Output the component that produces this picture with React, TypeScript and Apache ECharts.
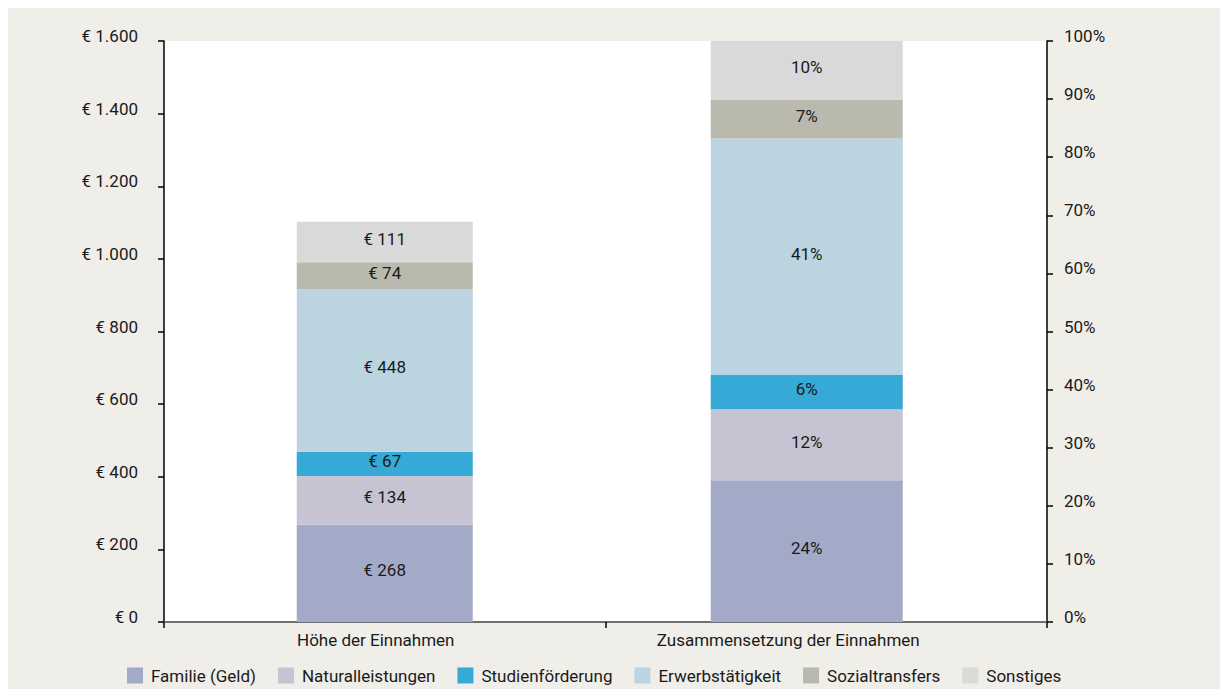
import React, { useEffect, useRef } from "react";
import * as echarts from "echarts";

const categories = ["Höhe der Einnahmen", "Zusammensetzung der Einnahmen"];
const seriesNames = [
  "Familie (Geld)",
  "Naturalleistungen",
  "Studienförderung",
  "Erwerbstätigkeit",
  "Sozialtransfers",
  "Sonstiges",
];
const amounts = [268, 134, 67, 448, 74, 111];
const shares = [24.4, 12.2, 6.0, 40.6, 6.7, 10.1];
const colors = ["#a3aac8", "#c6c3d3", "#36a9d6", "#bcd3e0", "#b9baad", "#d9d9d9"];
const leftTicks = { min: 0, max: 1600, interval: 200 };
const rightTicks = { min: 0, max: 100, interval: 10 };

const FONT = "Roboto";
const TXT = "#1a1a1a";

function euro(v: number): string {
  if (v >= 1000) {
    return "€ " + Math.floor(v / 1000) + "." + String(v % 1000).padStart(3, "0");
  }
  return "€ " + v;
}

export default function App() {
  const ref = useRef<HTMLDivElement>(null);
  useEffect(() => {
    if (!ref.current) return;
    const chart = echarts.init(ref.current, undefined, { renderer: "svg" });
    const labelStyle = {
      show: true,
      position: "inside" as const,
      color: TXT,
      fontSize: 17,
      fontFamily: FONT,
      offset: [0, -3],
    };
    const series: any[] = [];
    seriesNames.forEach((name, i) => {
      series.push({
        name,
        type: "bar",
        stack: "amount",
        xAxisIndex: 0,
        yAxisIndex: 0,
        barWidth: 176,
        itemStyle: { color: colors[i] },
        label: { ...labelStyle, formatter: (p: any) => euro(p.value) },
        data: [amounts[i], "-"],
      });
    });
    seriesNames.forEach((name, i) => {
      series.push({
        name,
        type: "bar",
        stack: "share",
        xAxisIndex: 1,
        yAxisIndex: 2,
        barWidth: 192,
        itemStyle: { color: colors[i] },
        label: { ...labelStyle, formatter: (p: any) => Math.round(p.value) + "%" },
        data: ["-", shares[i]],
      });
    });
    const axisLbl = {
      color: TXT,
      fontSize: 17,
      fontFamily: FONT,
      verticalAlign: "bottom" as const,
      lineHeight: 10,
    };
    chart.setOption({
      animation: false,
      backgroundColor: "#efeee8",
      textStyle: { fontFamily: FONT },
      grid: [
        {
          left: 156,
          top: 33,
          width: 883,
          height: 581,
          show: true,
          backgroundColor: "#ffffff",
          borderWidth: 0,
        },
        {
          left: 156,
          top: 33,
          width: 857,
          height: 581,
          show: false,
        },
      ],
      legend: {
        data: seriesNames,
        left: 114,
        top: 654,
        icon: "rect",
        itemWidth: 16,
        itemHeight: 16,
        itemGap: 22,
        textStyle: { color: TXT, fontSize: 17, fontFamily: FONT, padding: [0, 0, 0, 3] },
      },
      xAxis: [
        {
          type: "category",
          gridIndex: 0,
          data: categories,
          axisLine: { show: true, lineStyle: { color: "#707070", width: 2 } },
          axisTick: { show: true, length: 6, lineStyle: { color: "#000", width: 1.5 } },
          axisLabel: {
            margin: 9,
            color: TXT,
            fontSize: 17,
            fontFamily: FONT,
            formatter: (v: string, idx: number) => (idx === 0 ? "{a|" + v + "}" : "{b|" + v + "}"),
            rich: {
              a: { color: TXT, fontSize: 17, fontFamily: FONT, padding: [0, 18, 0, 0] },
              b: { color: TXT, fontSize: 17, fontFamily: FONT, padding: [0, 76, 0, 0] },
            },
          },
        },
        {
          type: "category",
          gridIndex: 1,
          data: categories,
          show: false,
        },
      ],
      yAxis: [
        {
          type: "value",
          gridIndex: 0,
          position: "left",
          min: leftTicks.min,
          max: leftTicks.max,
          interval: leftTicks.interval,
          splitLine: { show: false },
          axisLine: { show: true, lineStyle: { color: "#000", width: 1.5 } },
          axisTick: { show: true, length: 6, lineStyle: { color: "#000", width: 1.5 } },
          axisLabel: {
            ...axisLbl,
            margin: 26,
            formatter: (v: number) => euro(v),
          },
        },
        {
          type: "value",
          gridIndex: 0,
          position: "right",
          min: rightTicks.min,
          max: rightTicks.max,
          interval: rightTicks.interval,
          splitLine: { show: false },
          axisLine: { show: true, lineStyle: { color: "#000", width: 1.5 } },
          axisTick: { show: true, length: 6, lineStyle: { color: "#000", width: 1.5 } },
          axisLabel: {
            ...axisLbl,
            margin: 17,
            formatter: "{value}%",
          },
        },
        {
          type: "value",
          gridIndex: 1,
          min: rightTicks.min,
          max: rightTicks.max,
          show: false,
          splitLine: { show: false },
        },
      ],
      series,
    });
    return () => chart.dispose();
  }, []);
  return <div ref={ref} style={{ width: 1212, height: 681 }} />;
}
